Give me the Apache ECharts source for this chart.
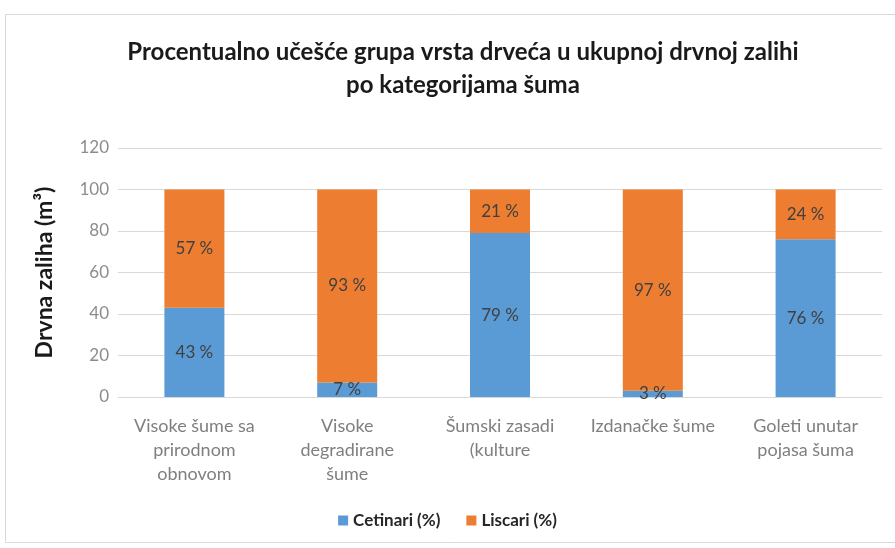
<!DOCTYPE html>
<html lang="sr">
<head>
  <meta charset="UTF-8">
  <title>Procentualno učešće grupa vrsta drveća</title>
  <script src="https://cdn.jsdelivr.net/npm/echarts@6/dist/echarts.min.js"></script>
  <style>
    html, body { margin: 0; padding: 0; background: #fff; }
    #main { width: 895px; height: 548px; }
  </style>
</head>
<body>
  <div id="main"></div>
  <script>
    const chart = echarts.init(document.getElementById('main'));

    // podaci
    const categories = [
      'Visoke šume sa\nprirodnom\nobnovom',
      'Visoke\ndegradirane\nšume',
      'Šumski zasadi\n(kulture',
      'Izdanačke šume',
      'Goleti unutar\npojasa šuma'
    ];
    const cetinari = [43, 7, 79, 3, 76];
    const liscari = [57, 93, 21, 97, 24];

    const font = 'Lato, "Noto Sans", sans-serif';

    chart.setOption({
      graphic: [{
        type: 'rect',
        shape: { x: 5.5, y: 14.5, width: 900, height: 528 },
        style: { fill: 'none', stroke: '#d9d9d9', lineWidth: 1 }
      }],
      title: {
        text: 'Procentualno učešće grupa vrsta drveća u ukupnoj drvnoj zalihi\npo kategorijama šuma',
        left: 458,
        textAlign: 'center',
        top: 31,
        textStyle: {
          fontFamily: font,
          fontWeight: 'bold',
          fontSize: 24,
          lineHeight: 33,
          color: '#1a1a1a'
        }
      },
      legend: {
        bottom: 14,
        left: 'center',
        itemWidth: 10,
        itemHeight: 10,
        itemGap: 26,
        icon: 'rect',
        textStyle: { fontFamily: font, fontWeight: 'bold', fontSize: 17, color: '#262626' },
        data: ['Cetinari (%)', 'Liscari (%)']
      },
      grid: { left: 118, right: 13, top: 148, bottom: 151 },
      xAxis: {
        type: 'category',
        data: categories,
        axisTick: { show: false },
        axisLine: { lineStyle: { color: '#d9d9d9' } },
        axisLabel: {
          interval: 0,
          margin: 17,
          color: '#7f7f7f',
          fontFamily: font,
          fontSize: 18,
          lineHeight: 24
        }
      },
      yAxis: {
        type: 'value',
        min: 0,
        max: 120,
        interval: 20,
        name: 'Drvna zaliha (m³)',
        nameLocation: 'middle',
        nameGap: 62,
        nameTextStyle: { fontFamily: font, fontWeight: 'bold', fontSize: 23, color: '#1a1a1a' },
        axisLabel: { color: '#8c8c8c', fontFamily: font, fontSize: 17, margin: 9 },
        splitLine: { lineStyle: { color: '#d9d9d9' } }
      },
      series: [
        {
          name: 'Cetinari (%)',
          type: 'bar',
          stack: 'ukupno',
          barWidth: 60,
          data: cetinari,
          itemStyle: { color: '#5b9bd5' },
          label: {
            show: true,
            formatter: '{c} %',
            color: '#404040',
            fontFamily: font,
            fontSize: 17
          }
        },
        {
          name: 'Liscari (%)',
          type: 'bar',
          stack: 'ukupno',
          barWidth: 60,
          data: liscari,
          itemStyle: { color: '#ed7d31' },
          label: {
            show: true,
            formatter: '{c} %',
            color: '#404040',
            fontFamily: font,
            fontSize: 17
          }
        }
      ]
    });
  </script>
</body>
</html>
